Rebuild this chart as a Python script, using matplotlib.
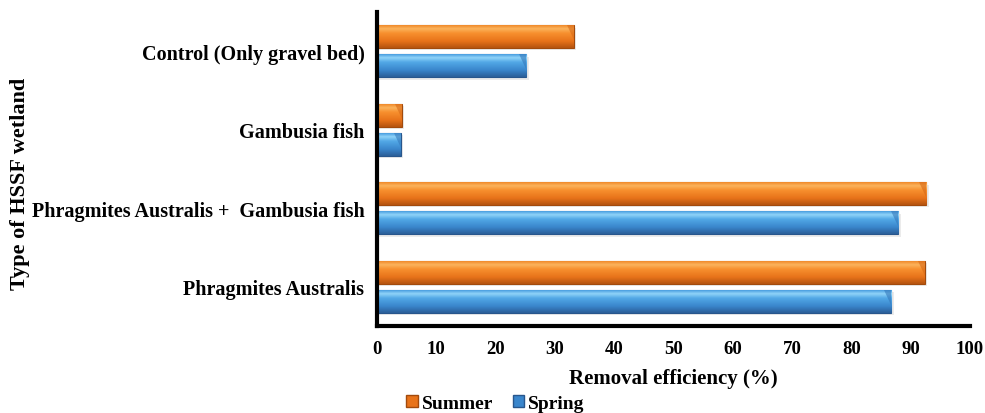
import matplotlib.pyplot as plt
import numpy as np
from matplotlib.colors import LinearSegmentedColormap
from matplotlib.patches import Patch, Polygon

# data (bottom category first)
categories = ["Phragmites Australis",
              "Phragmites Australis +  Gambusia fish",
              "Gambusia fish",
              "Control (Only gravel bed)"]
summer = [92.4, 92.6, 4.2, 33.2]
spring = [86.7, 87.9, 4.0, 25.2]

plt.rcParams['font.family'] = ['Liberation Serif', 'DejaVu Serif']
plt.rcParams['font.weight'] = 'bold'

# vertical shading for a "cylinder" look
orange_cmap = LinearSegmentedColormap.from_list(
    "orange", [(0.0, "#b55410"), (0.3, "#e8731a"), (0.65, "#f7902e"),
               (0.85, "#fbb35c"), (1.0, "#f08a2a")])
blue_cmap = LinearSegmentedColormap.from_list(
    "blue", [(0.0, "#2c5f99"), (0.3, "#3a86cc"), (0.65, "#52a8e6"),
             (0.85, "#8fd3f8"), (1.0, "#4a9ee0")])


def shaded_bars(ax, ypos, values, height, cmap, edge):
    bars = ax.barh(ypos, values, height=height, color=cmap(0.5),
                   edgecolor=edge, linewidth=0.8, zorder=2)
    grad = np.linspace(0, 1, 64).reshape(-1, 1)
    for b in bars:
        x0, y0 = b.get_x(), b.get_y()
        w, h = b.get_width(), b.get_height()
        im = ax.imshow(grad, cmap=cmap, origin='lower', aspect='auto',
                       extent=(x0, x0 + w, y0, y0 + h), zorder=2.5)
        im.set_clip_path(b)
        # bevel facet at the bar end
        bw = min(1.2, w * 0.3)
        ax.add_patch(Polygon([(x0 + w - bw, y0 + h), (x0 + w, y0 + h),
                              (x0 + w, y0 + h * 0.35)], closed=True,
                             facecolor=cmap(0.2), alpha=0.6, lw=0, zorder=2.6))
        # soft shadow under the bar
        ax.barh(y0 + h / 2 - 0.03, w + 0.4, height=h, left=x0,
                color="#000000", alpha=0.08, linewidth=0, zorder=1)
    return bars


fig = plt.figure(figsize=(9.85, 4.14), dpi=100)
ax = fig.add_axes([0.3827, 0.2101, 0.6021, 0.7585])

y = np.arange(len(categories))
h = 0.29
off = 0.185
shaded_bars(ax, y + off, summer, h, orange_cmap, "#a24a0c")
shaded_bars(ax, y - off, spring, h, blue_cmap, "#28568c")

ax.set_xlim(0, 100)
ax.set_ylim(-0.5, 3.5)
ax.set_xticks(np.arange(0, 101, 10))
ax.set_yticks(y)
ax.set_yticklabels(categories)
ax.tick_params(axis='both', length=0)
ax.tick_params(axis='x', pad=10, labelsize=13.5)
ax.tick_params(axis='y', pad=9, labelsize=14.5)

for s in ['top', 'right']:
    ax.spines[s].set_visible(False)
for s in ['left', 'bottom']:
    ax.spines[s].set_linewidth(3)
    ax.spines[s].set_color('black')

ax.set_xlabel("Removal efficiency (%)", fontsize=15, fontweight='bold', labelpad=8)
fig.text(0.02, 0.557, "Type of HSSF wetland", rotation=90, fontsize=16,
         fontweight='bold', ha='center', va='center')

handles = [Patch(facecolor="#e8731a", edgecolor="#a24a0c", label="Summer"),
           Patch(facecolor="#3a86cc", edgecolor="#28568c", label="Spring")]
fig.legend(handles=handles, loc='center', bbox_to_anchor=(0.503, 0.024),
           ncol=2, frameon=False, handlelength=0.6,
           handleheight=0.6, handletextpad=0.2, columnspacing=1.0,
           prop={'weight': 'bold', 'size': 14})

fig.savefig("out.png", dpi=100)
